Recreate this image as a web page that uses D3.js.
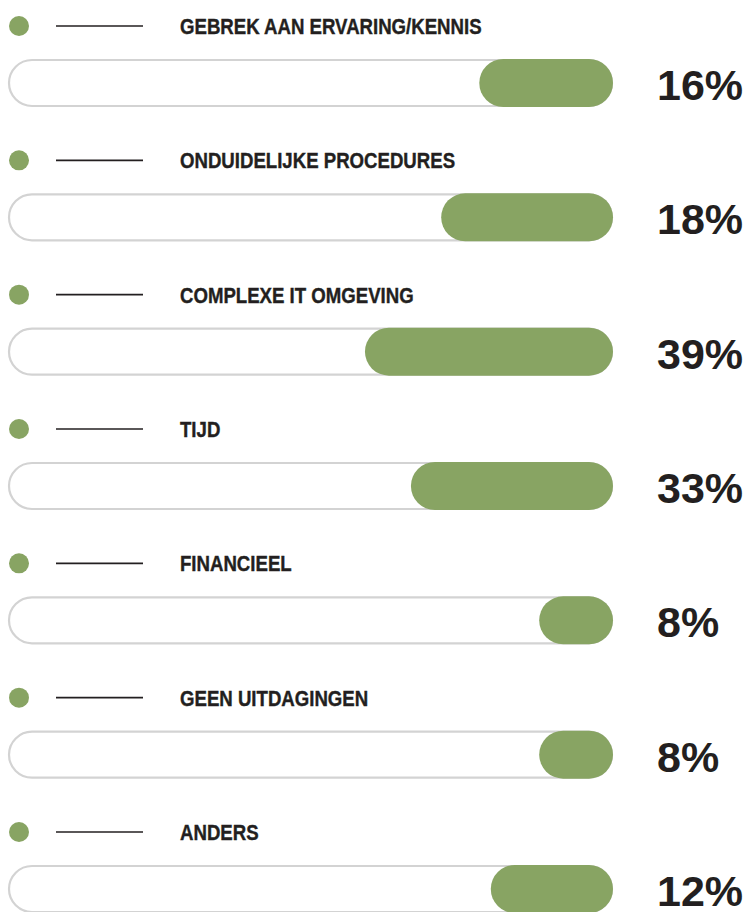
<!DOCTYPE html>
<html>
<head>
<meta charset="utf-8">
<script src="https://cdn.jsdelivr.net/npm/d3@7"></script>
<style>
  body { margin: 0; background: #fff; }
  svg { display: block; }
  .label { font-family: "Liberation Sans", Arial, sans-serif; font-weight: bold; fill: #231f20; }
  .pct { font-family: "Liberation Sans", Arial, sans-serif; font-weight: bold; fill: #231f20; }
</style>
</head>
<body>
<script>
var width = 752;
var height = 912;
var green = "#88a463";

// answers as printed
var categories = [
    "GEBREK AAN ERVARING/KENNIS",
    "ONDUIDELIJKE PROCEDURES",
    "COMPLEXE IT OMGEVING",
    "TIJD",
    "FINANCIEEL",
    "GEEN UITDAGINGEN",
    "ANDERS",
];
var shares = [16, 18, 39, 33, 8, 8, 12];
// how much of each track the green part fills (% of track)
var barFill = [22.1, 28.4, 41, 33.4, 12.2, 12.2, 20.2];

var rows = categories.map((c, i) => ({label: c, share: shares[i], fill: barFill[i]}));

var svg = d3.select("body")
    .append("svg")
    .attr("width", width)
    .attr("height", height)
;

// track position of each row (top of the pill)
var y = d3.scalePoint()
    .domain(d3.range(rows.length))
    .range([59, 865])
;
var x = d3.scaleLinear()
    .domain([0, 100])
    .range([8, 613])
;
var trackH = 48;

var g = svg.selectAll("g.row")
    .data(rows)
    .enter().append("g")
    .attr("class", "row")
    .attr("transform", (d, i) => `translate(0, ${y(i)})`)
;

g.append("circle")
    .attr("cx", 19)
    .attr("cy", -33)
    .attr("r", 10)
    .attr("fill", green)
;

g.append("line")
    .attr("x1", 56)
    .attr("x2", 143)
    .attr("y1", -33)
    .attr("y2", -33)
    .attr("stroke", "#231f20")
    .attr("stroke-width", 1.6)
;

// condensed look: squeeze a regular bold face horizontally
g.append("text")
    .attr("class", "label")
    .attr("transform", "translate(180, -25) scale(0.81, 1)")
    .style("font-size", "23px")
    .style("stroke", "#231f20")
    .style("stroke-width", 0.4)
    .text(d => d.label)
;

// empty track
g.append("rect")
    .attr("x", x(0) + 1)
    .attr("y", 1)
    .attr("width", x(100) - x(0) - 2)
    .attr("height", trackH - 2)
    .attr("rx", (trackH - 2) / 2)
    .attr("fill", "#fff")
    .attr("stroke", "#d3d3d3")
    .attr("stroke-width", 2.2)
;

// filled part, anchored on the right end
g.append("rect")
    .attr("x", d => x(100 - d.fill))
    .attr("y", 0)
    .attr("width", d => x(100) - x(100 - d.fill))
    .attr("height", trackH)
    .attr("rx", trackH / 2)
    .attr("fill", green)
;

g.append("text")
    .attr("class", "pct")
    .attr("x", 657)
    .attr("y", 41)
    .style("font-size", "43px")
    .text(d => d.share + "%")
;
</script>
</body>
</html>
